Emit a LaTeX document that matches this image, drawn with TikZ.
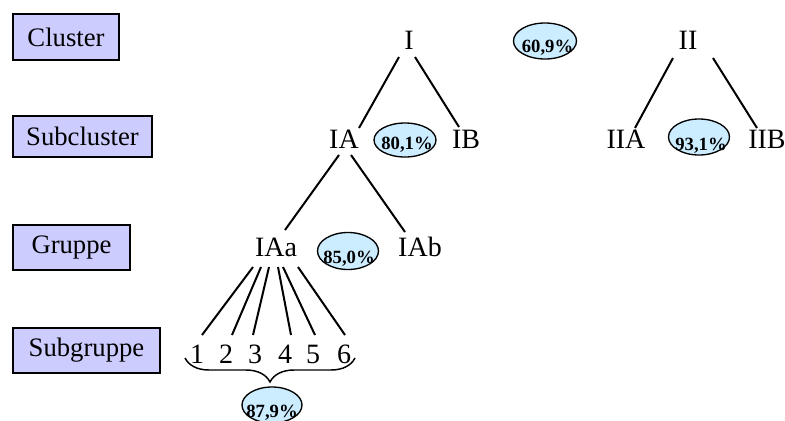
\documentclass[tikz,border=0pt]{standalone}
\usepackage{fontspec}
\setmainfont{Liberation Serif}
\usetikzlibrary{shapes.geometric,calc,decorations.pathreplacing}
\definecolor{boxfill}{RGB}{204,204,255}
\definecolor{ellfill}{RGB}{204,236,255}
\begin{document}
\begin{tikzpicture}[x=0.75pt,y=-0.75pt,
  catbox/.style={draw=black,line width=1.5pt,fill=boxfill,inner sep=0pt,font=\fontsize{20}{24}\selectfont},
  lab/.style={inner sep=0pt,font=\fontsize{21}{24}\selectfont},
  pct/.style={draw=black,line width=1pt,fill=ellfill,ellipse,inner sep=0pt},
  pcttext/.style={inner sep=0pt,anchor=base,font=\bfseries\fontsize{14}{16}\selectfont},
  edge/.style={line width=1.5pt}]
\useasboundingbox (0,0) rectangle (785,421);

% category boxes
\node[catbox,minimum width=79.5pt,minimum height=34.5pt] (cl) at (66,37) {Cluster};
\node[catbox,minimum width=104.25pt,minimum height=30.75pt] (scl) at (82.5,136.5) {Subcluster};
\node[catbox,minimum width=87.75pt,minimum height=33.75pt] (gr) at (71.5,247.5) {Gruppe};
\node[catbox,minimum width=110.25pt,minimum height=33.75pt] (sgr) at (86.5,350.5) {Subgruppe};

% tree labels
\node[lab] (I) at (409,40) {I};
\node[lab] (II) at (688,40) {II};
\node[lab] (IA) at (344,139) {IA};
\node[lab] (IB) at (466,139) {IB};
\node[lab] (IIA) at (626,139) {IIA};
\node[lab] (IIB) at (767,139) {IIB};
\node[lab] (IAa) at (276,247) {IAa};
\node[lab] (IAb) at (420,247) {IAb};
\node[lab] (d1) at (197,354) {1};
\node[lab] (d2) at (226,354) {2};
\node[lab] (d3) at (255,354) {3};
\node[lab] (d4) at (285,354) {4};
\node[lab] (d5) at (313,354) {5};
\node[lab] (d6) at (344,354) {6};

% edges
\draw[edge] ($(I)+(-10,17)$) -- ($(IA)+(15,-11)$);
\draw[edge] ($(I)+(6,17)$) -- ($(IB)+(-7,-12)$);
\draw[edge] ($(II)+(-15,18)$) -- ($(IIA)+(9,-11)$);
\draw[edge] ($(II)+(25,18)$) -- ($(IIB)+(-10,-11)$);
\draw[edge] ($(IA)+(-5,16)$) -- ($(IAa)+(9,-17)$);
\draw[edge] ($(IA)+(7,16)$) -- ($(IAb)+(-15,-15)$);
\draw[edge] ($(IAa)+(-23,20)$) -- ($(d1)+(5,-19)$);
\draw[edge] ($(IAa)+(-15,20)$) -- ($(d2)+(6,-19)$);
\draw[edge] ($(IAa)+(-7,20)$) -- ($(d3)+(-2,-19)$);
\draw[edge] ($(IAa)+(2,20)$) -- ($(d4)+(6,-19)$);
\draw[edge] ($(IAa)+(7,20)$) -- ($(d5)+(2,-19)$);
\draw[edge] ($(IAa)+(22,20)$) -- ($(d6)+(1,-19)$);

% brace
\coordinate (b1) at (185,358);
\coordinate (b2) at (355,358);
\draw[line width=1.1pt,decorate,decoration={brace,mirror,amplitude=18pt}] (b1) -- (b2);

% percentage ellipses
\node[pct,minimum width=47.25pt,minimum height=27pt] (e1) at (545,41) {};
\node[pcttext] at ($(e1)+(2.5,11)$) {60,9\%};
\node[pct,minimum width=46.5pt,minimum height=25.5pt] (e2) at (405,140) {};
\node[pcttext] at ($(e2)+(2,9)$) {80,1\%};
\node[pct,minimum width=45.75pt,minimum height=27pt] (e3) at (699,137) {};
\node[pcttext] at ($(e3)+(2,13)$) {93,1\%};
\node[pct,minimum width=45.75pt,minimum height=27.75pt] (e4) at (348,251) {};
\node[pcttext] at ($(e4)+(1,12)$) {85,0\%};
\node[pct,minimum width=45pt,minimum height=27pt] (e5) at (272,405) {};
\node[pcttext] at ($(e5)+(0,12)$) {87,9\%};
\end{tikzpicture}
\end{document}
